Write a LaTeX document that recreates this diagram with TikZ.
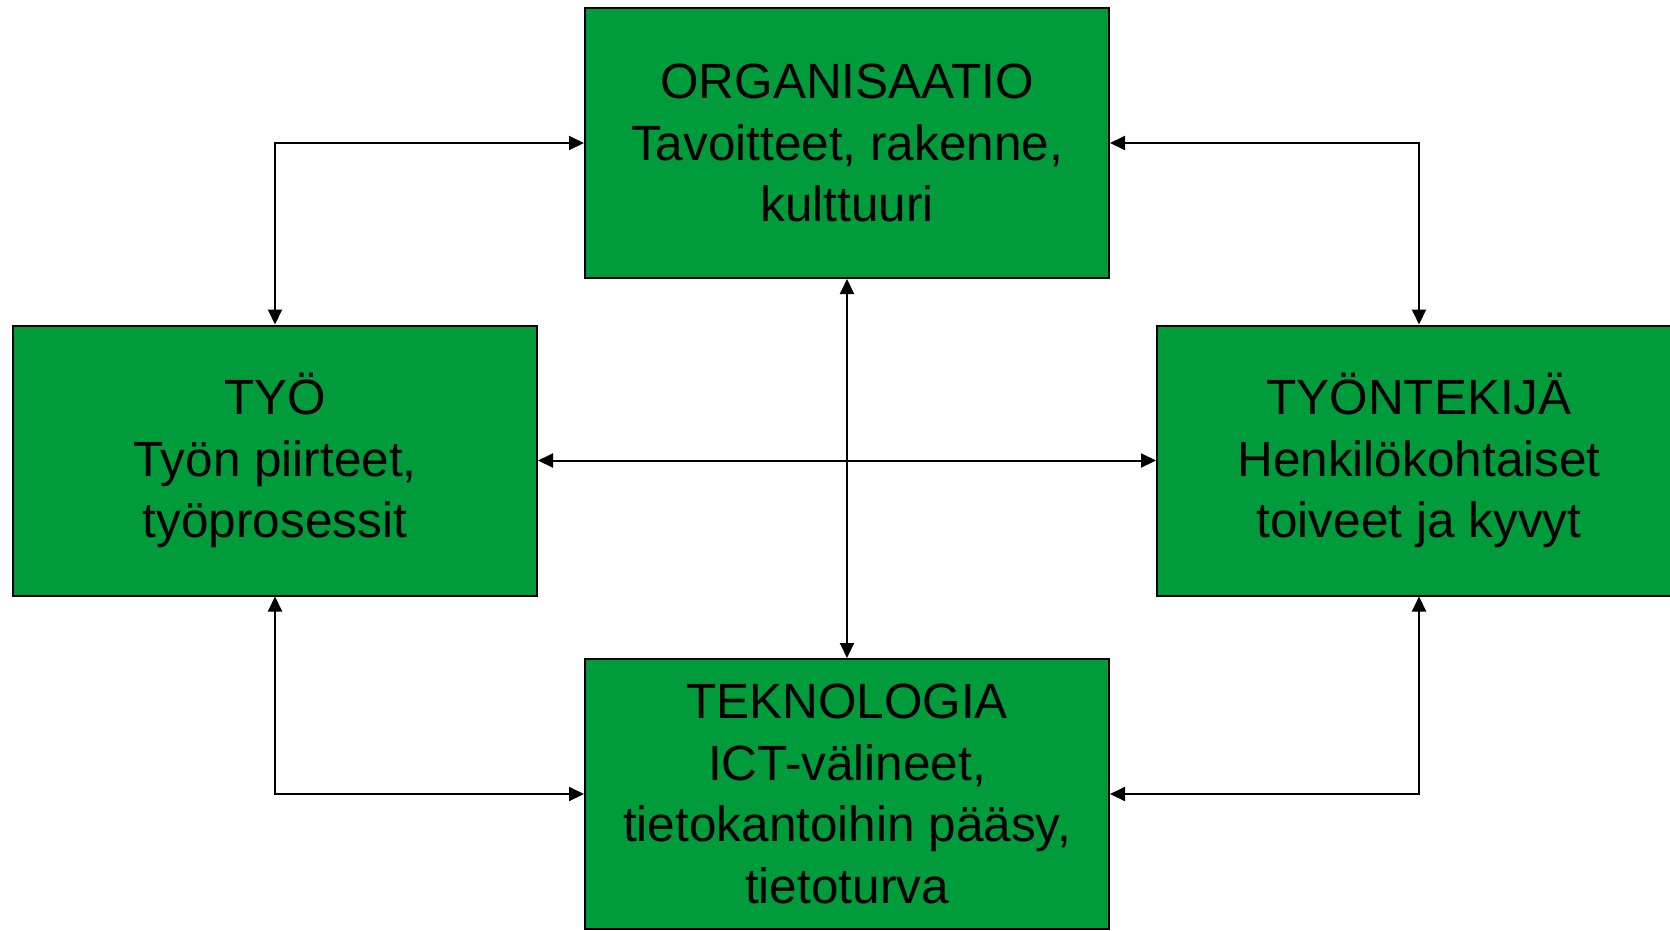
\documentclass[tikz,border=0pt]{standalone}
\usepackage{fontspec}
\setmainfont{Liberation Sans}
\usetikzlibrary{arrows.meta,positioning}
\definecolor{boxgreen}{RGB}{0,155,58}

\begin{document}
\begin{tikzpicture}[x=1pt,y=-1pt,
  box/.style={draw=black,line width=2pt,fill=boxgreen,minimum width=524pt,
    minimum height=270pt,inner sep=0pt,align=center,
    font=\fontsize{49.5}{61.6}\selectfont},
  link/.style={line width=2pt,
    {Triangle[length=15pt,width=14pt]}-{Triangle[length=15pt,width=14pt]}}]

\clip (0,0) rectangle (1670,930);

\node[box] (org) at (847,143) {ORGANISAATIO\\Tavoitteet, rakenne,\\kulttuuri};
\node[box] (tyo) at (275,460.5) {TYÖ\\Työn piirteet,\\työprosessit};
\node[box] (tekija) at (1419,460.5) {TYÖNTEKIJÄ\\Henkilökohtaiset\\toiveet ja kyvyt};
\node[box] (tek) at (847,794) {TEKNOLOGIA\\ICT-välineet,\\tietokantoihin pääsy,\\tietoturva};

\draw[link] (org.west) -| (tyo.north);
\draw[link] (org.east) -| (tekija.north);
\draw[link] (tyo.south) |- (tek.west);
\draw[link] (tekija.south) |- (tek.east);
\draw[link] (tyo.east) -- (tekija.west);
\draw[link] (org.south) -- (tek.north);

\end{tikzpicture}
\end{document}
